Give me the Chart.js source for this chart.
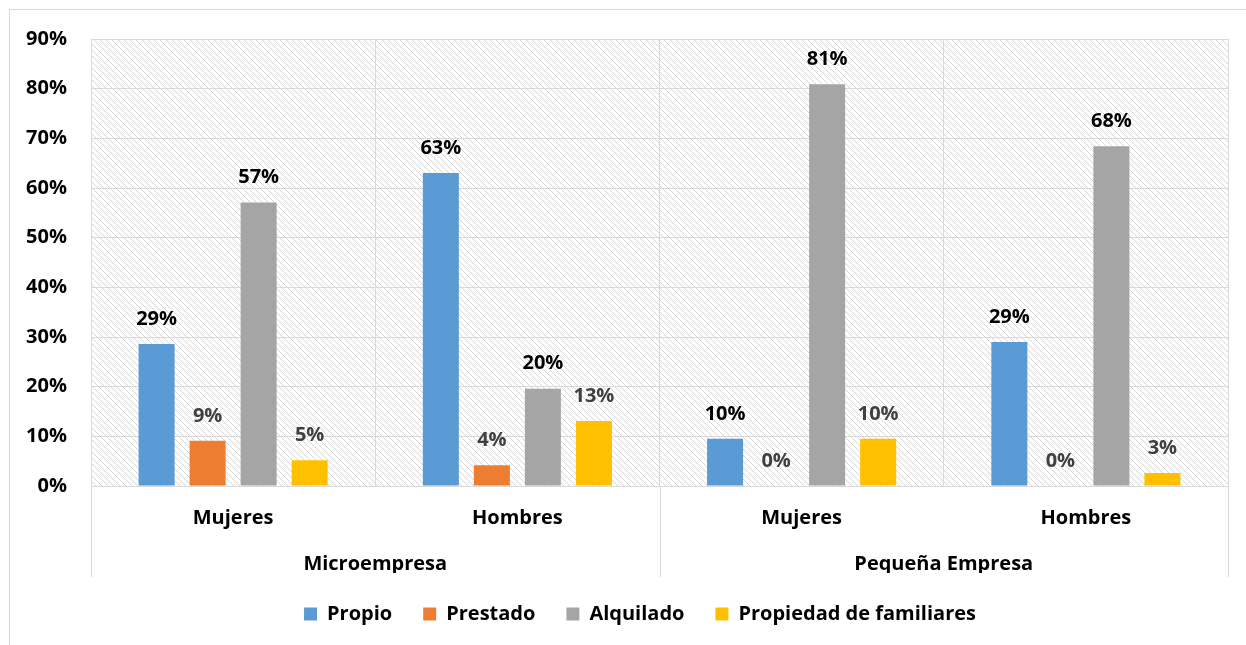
<!DOCTYPE html>
<html>
<head>
<meta charset="utf-8">
<script src="https://cdn.jsdelivr.net/npm/chart.js@4.4.1/dist/chart.umd.min.js"></script>
<style>
  html, body { margin: 0; padding: 0; background: #fff; }
  body { width: 1246px; height: 645px; overflow: hidden; position: relative; }
  #frame { position: absolute; left: 9px; top: 9px; width: 1260px; height: 660px; border: 1px solid #d9d9d9; box-sizing: border-box; }
  #wrap { position: absolute; left: 0; top: 0; width: 1246px; height: 645px; }
</style>
</head>
<body>
<div id="frame"></div>
<div id="wrap"><canvas id="c" width="1246" height="645"></canvas></div>
<script>
const categories = ['Mujeres', 'Hombres', 'Mujeres', 'Hombres'];
const groups = ['Microempresa', 'Pequeña Empresa'];
const seriesNames = ['Propio', 'Prestado', 'Alquilado', 'Propiedad de familiares'];
const propio = [28.6, 63.0, 9.5, 29.0];
const prestado = [9.1, 4.2, 0, 0];
const alquilado = [57.1, 19.6, 80.9, 68.4];
const propiedad = [5.2, 13.1, 9.5, 2.6];
const yTicks = [0, 10, 20, 30, 40, 50, 60, 70, 80, 90];

const colors = ['#5B9BD5', '#ED7D31', '#A5A5A5', '#FFC000'];
const labelColors = ['#000000', '#404040', '#000000', '#404040'];
const FONT = '"Open Sans"';
const FS = 20;

function makePattern(ctx) {
  const t = document.createElement('canvas');
  t.width = 6; t.height = 6;
  const c = t.getContext('2d');
  c.fillStyle = '#ffffff';
  c.fillRect(0, 0, 6, 6);
  c.strokeStyle = '#d6d6d6';
  c.lineWidth = 1;
  c.beginPath();
  c.moveTo(-1, -1); c.lineTo(7, 7);
  c.moveTo(-7, -1); c.lineTo(1, 7);
  c.moveTo(5, -1); c.lineTo(13, 7);
  c.stroke();
  return ctx.createPattern(t, 'repeat');
}

const bgPlugin = {
  id: 'hatch',
  beforeDraw(chart) {
    const { ctx, chartArea: a } = chart;
    ctx.save();
    ctx.fillStyle = makePattern(ctx);
    ctx.fillRect(a.left, a.top, a.right - a.left, a.bottom - a.top);
    ctx.restore();
  }
};

const labelPlugin = {
  id: 'barLabels',
  afterDatasetsDraw(chart) {
    const { ctx } = chart;
    ctx.save();
    ctx.font = 'bold ' + FS + 'px ' + FONT;
    ctx.textAlign = 'center';
    ctx.textBaseline = 'middle';
    chart.data.datasets.forEach((ds, i) => {
      const meta = chart.getDatasetMeta(i);
      meta.data.forEach((bar, j) => {
        ctx.fillStyle = labelColors[i];
        ctx.fillText(Math.round(ds.data[j]) + '%', bar.x, bar.y - 25);
      });
    });
    ctx.restore();
  }
};

const sepPlugin = {
  id: 'groupSeparators',
  afterDraw(chart) {
    const { ctx, chartArea: a } = chart;
    const xs = chart.scales.x;
    const mid = (xs.getPixelForValue(1) + xs.getPixelForValue(2)) / 2;
    ctx.save();
    ctx.strokeStyle = '#d9d9d9';
    ctx.lineWidth = 1;
    ctx.beginPath();
    [a.left, mid, a.right].forEach(x => {
      const px = Math.round(x) + 0.5;
      ctx.moveTo(px, a.bottom);
      ctx.lineTo(px, 577);
    });
    ctx.stroke();
    ctx.restore();
  }
};

const legendShift = {
  id: 'legendShift',
  afterLayout(chart) {
    if (chart.legend) { chart.legend.left += 26; chart.legend.right += 26; }
  }
};

const datasets = [propio, prestado, alquilado, propiedad].map((d, i) => ({
  label: seriesNames[i],
  data: d,
  backgroundColor: colors[i],
  borderWidth: 0,
  categoryPercentage: 0.718,
  barPercentage: 0.706,
  xAxisID: 'x',
  yAxisID: 'y'
}));

new Chart(document.getElementById('c'), {
  type: 'bar',
  data: { labels: categories, datasets },
  plugins: [bgPlugin, labelPlugin, sepPlugin, legendShift],
  options: {
    responsive: false,
    animation: false,
    events: [],
    layout: { padding: { left: 0, right: 18, top: 39, bottom: 11 } },
    plugins: {
      tooltip: { enabled: false },
      legend: {
        position: 'bottom',
        labels: {
          boxWidth: 13, boxHeight: 13, padding: 31,
          color: '#000', font: { family: FONT, size: FS, weight: 'bold' }
        }
      }
    },
    scales: {
      x: {
        type: 'category',
        position: 'bottom',
        grid: { offset: true, color: '#d9d9d9', drawTicks: false, lineWidth: 1 },
        border: { color: '#d9d9d9' },
        ticks: { color: '#000', padding: 20, font: { family: FONT, size: FS, weight: 'bold' } },
        afterFit(s) { s.height = 56; }
      },
      x2: {
        type: 'category',
        position: 'bottom',
        labels: groups,
        grid: { display: false, drawTicks: false },
        border: { display: false },
        ticks: { color: '#000', padding: 10, font: { family: FONT, size: FS, weight: 'bold' } },
        afterFit(s) { s.height = 31; }
      },
      y: {
        min: 0, max: 90,
        afterBuildTicks(s) { s.ticks = yTicks.map(v => ({ value: v })); },
        grid: { color: '#d9d9d9', drawTicks: false, lineWidth: 1 },
        border: { display: false },
        ticks: {
          color: '#000', padding: 24,
          font: { family: FONT, size: FS, weight: 'bold' },
          callback: v => v + '%'
        },
        afterFit(s) { s.width = 91; }
      }
    }
  }
});
</script>
</body>
</html>
